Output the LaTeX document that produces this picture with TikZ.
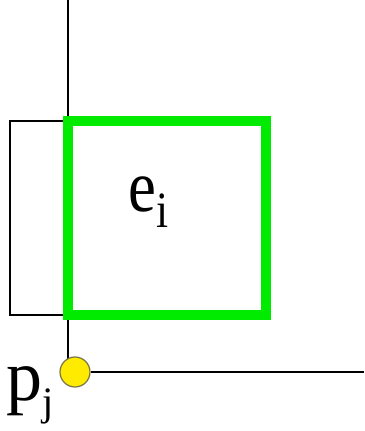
\documentclass[tikz,border=0pt]{standalone}
\usepackage{fontspec}
\setmainfont{Liberation Serif}
\usetikzlibrary{positioning}
\definecolor{cellgreen}{RGB}{0, 235, 0}
\definecolor{pointyellow}{RGB}{255, 235, 0}

\begin{document}
\begin{tikzpicture}[x=0.02cm, y=-0.02cm,
        thinline/.style={draw=black, line width=0.85pt},
        cell/.style={draw=cellgreen, line width=5.2pt, line join=miter},
        point/.style={circle, fill=pointyellow, draw=black!60!yellow, line width=0.7pt, minimum size=0.6cm, inner sep=0pt},
        lbl/.style={inner sep=0pt, font=\fontsize{41}{48}\selectfont}
    ]
        \useasboundingbox (0,0) rectangle (364,431);

        % frame lines
        \coordinate (top) at (68,0);
        \coordinate (bend) at (68,360);
        \coordinate (right) at (364,372);
        \draw [thinline] (top) -- (bend);
        \draw [thinline] (68,121) rectangle (10,315);

        % cell
        \draw [cell] (68,121) rectangle (266,315);
        \node (ei) [lbl, anchor=base west] at (128,212)
            {\scalebox{0.85}[1]{\fontsize{42}{48}\selectfont e\raisebox{-9pt}{\fontsize{29}{32}\selectfont i}}};

        % point
        \node (pj) [point] at (75,372) {};
        \draw [thinline] (pj.east) -- (right);
        \node (pjl) [lbl, anchor=base west] at (6,400) {p\raisebox{-9pt}{\fontsize{23}{26}\selectfont j}};
    \end{tikzpicture}
\end{document}
